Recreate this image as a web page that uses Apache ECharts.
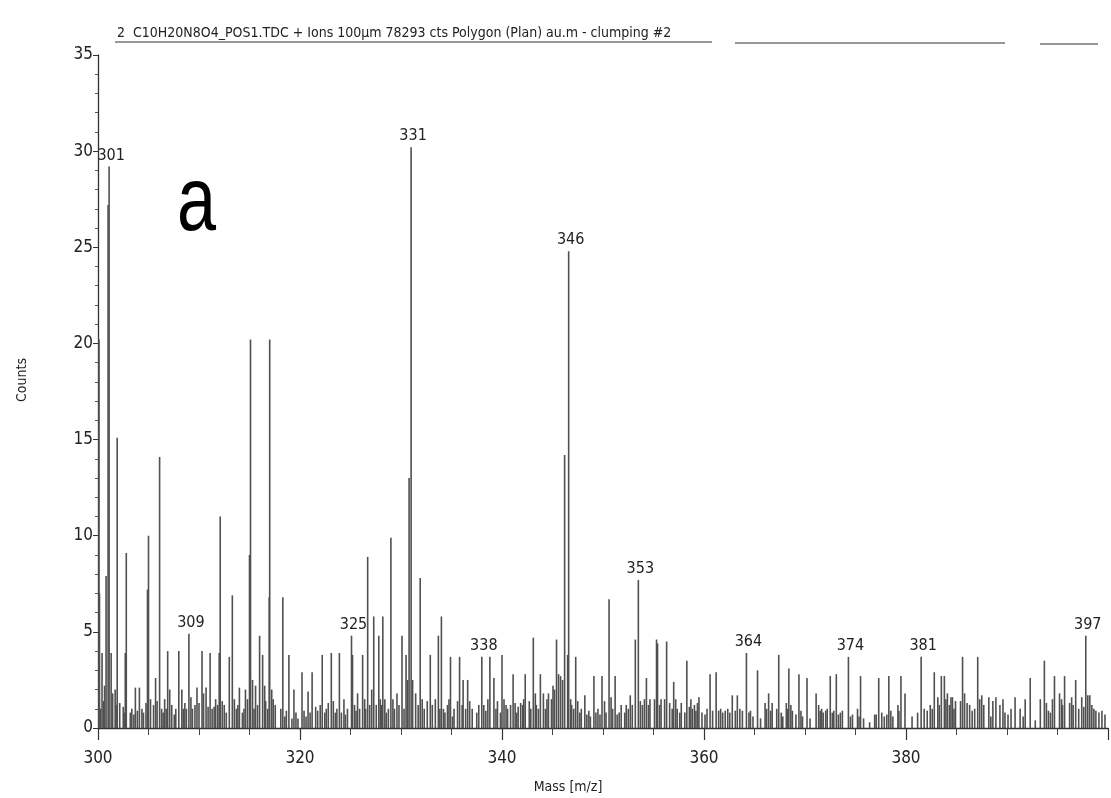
<!DOCTYPE html>
<html><head><meta charset="utf-8">
<script src="https://cdn.jsdelivr.net/npm/echarts@6/dist/echarts.min.js"></script>
<style>html,body{margin:0;padding:0;background:#fff}#c{width:1111px;height:798px}</style>
</head><body><div id="c"></div>
<script>
// Main (taller) mass peaks: [m/z, counts]
const mainPeaks = [
[300.1,20.2],[300.15,7.0],[300.4,3.9],[300.8,7.9],[301.0,27.2],[301.1,29.2],[301.3,3.9],[301.7,2.0],[301.9,15.1],
[302.7,3.9],[302.8,9.1],[303.7,2.1],[304.1,2.1],[304.9,7.2],[305.0,10.0],[305.7,2.6],[306.1,14.1],[306.9,4.0],
[307.1,2.0],[308.0,4.0],[308.3,2.0],[309.0,4.9],[309.8,2.1],[310.3,4.0],[310.7,2.1],[311.1,3.9],[312.0,3.9],
[312.1,11.0],[313.0,3.7],[313.3,6.9],[314.0,2.1],[315.0,9.0],[315.1,20.2],[316.0,4.8],[316.3,3.8],[316.95,6.8],
[317.0,20.2],[318.3,6.8],[318.9,3.8],[319.4,2.0],[320.2,2.9],[320.8,1.9],[321.2,2.9],[322.2,3.8],[323.1,3.9],
[323.9,3.9],[325.1,4.8],[325.2,3.8],[325.7,1.8],[326.2,3.8],[326.7,8.9],[327.3,5.8],[327.8,4.8],[328.2,5.8],
[329.0,9.9],[330.1,4.8],[330.5,3.8],[330.8,13.0],[331.0,30.2],[331.9,7.8],[332.9,3.8],[333.7,4.8],[334.0,5.8],
[334.9,3.7],[335.8,3.7],[336.6,2.5],[338.0,3.7],[338.8,3.7],[339.2,2.6],[340.0,3.8],[341.1,2.8],[342.3,2.8],
[343.1,4.7],[343.8,2.8],[344.1,1.8],[345.4,4.6],[345.8,2.7],[346.2,14.2],[346.5,3.8],[346.6,24.8],[347.3,3.7],
[348.2,1.7],[349.1,2.7],[349.9,2.7],[350.6,6.7],[351.2,2.7],[352.7,1.7],[353.2,4.6],[353.5,7.7],[354.3,2.6],
[355.3,4.6],[355.4,4.4],[356.3,4.5],[357.0,2.4],[358.3,3.5],[359.5,1.6],[360.6,2.8],[361.2,2.9],[362.8,1.7],
[363.3,1.7],[364.2,3.9],[365.3,3.0],[366.4,1.8],[367.4,3.8],[368.4,3.1],[369.4,2.8],[370.2,2.6],[371.1,1.8],
[372.5,2.7],[373.1,2.8],[374.3,3.7],[375.5,2.7],[377.3,2.6],[378.3,2.7],[379.5,2.7],[379.9,1.8],[381.5,3.7],
[382.8,2.9],[383.5,2.7],[383.8,2.7],[384.6,1.6],[385.6,3.7],[387.1,3.7],[387.5,1.7],[388.2,1.6],[388.9,1.6],
[389.6,1.5],[390.8,1.6],[391.8,1.5],[392.3,2.6],[393.7,3.5],[394.3,0.8],[394.7,2.7],[395.4,1.5],[395.7,2.7],
[396.8,2.5],[397.8,4.8],[398.0,1.7]
];
// Low-intensity sticks forming the spectrum floor: [m/z, counts]
const minorSticks = [
[300.25,1.0],[300.55,1.4],[300.65,2.2],[301.45,1.8],[301.8,1.2],[302.15,1.3],[302.5,1.1],[302.6,0.8],
[303.2,0.8],[303.35,1.0],[303.55,0.7],[303.9,0.9],[304.35,1.0],[304.5,0.8],[304.75,1.3],[305.2,1.5],[305.5,1.2],
[305.85,1.4],[306.3,1.0],[306.45,0.8],[306.6,1.5],[306.75,1.0],[307.3,1.2],[307.55,0.7],[307.7,1.0],[308.45,1.0],
[308.6,1.3],[308.75,1.0],[309.2,1.6],[309.35,1.0],[309.6,1.2],[310.0,1.3],[310.45,1.8],[310.9,1.1],[311.3,1.0],
[311.5,1.1],[311.65,1.5],[311.85,1.2],[312.3,1.4],[312.5,1.2],[312.7,0.8],[313.5,1.5],[313.7,1.0],[313.85,1.2],
[314.3,0.8],[314.45,1.0],[314.6,2.0],[314.8,1.5],[315.3,2.5],[315.45,1.0],[315.6,2.2],[315.8,1.2],[316.5,2.2],
[316.6,1.4],[316.8,1.0],[317.2,2.0],[317.35,1.5],[317.55,1.2],[318.1,1.0],[318.5,0.6],[318.65,0.9],[319.2,0.5],
[319.6,0.8],[319.8,0.5],[320.4,0.9],[320.6,0.6],[321.0,0.8],[321.55,1.1],[321.75,0.9],[322.0,1.2],[322.45,0.8],
[322.6,1.0],[322.8,1.3],[323.3,1.4],[323.5,0.8],[323.65,1.0],[324.1,0.8],[324.35,1.5],[324.5,0.7],[324.7,1.0],
[325.4,1.2],[325.55,0.9],[325.9,1.0],[326.4,1.5],[326.5,1.0],[326.9,1.2],[327.1,2.0],[327.55,1.2],[327.95,1.5],
[328.05,1.2],[328.4,1.5],[328.55,0.8],[328.75,1.0],[329.2,1.5],[329.35,1.0],[329.6,1.8],[329.8,1.2],[330.3,1.0],
[330.65,2.5],[331.15,2.5],[331.45,1.8],[331.7,1.2],[332.1,1.5],[332.3,1.0],[332.6,1.4],[333.1,1.2],[333.4,1.5],
[333.85,1.0],[334.2,1.0],[334.35,0.8],[334.6,1.2],[334.75,1.5],[335.1,0.6],[335.25,1.0],[335.6,1.4],[336.05,1.2],
[336.15,2.5],[336.4,1.0],[336.8,1.4],[337.05,1.0],[337.5,0.8],[337.7,1.2],[338.2,1.2],[338.4,0.9],[338.6,1.5],
[339.4,1.0],[339.55,1.4],[339.85,0.8],[340.2,1.5],[340.4,1.2],[340.55,1.0],[340.85,1.2],[341.3,1.3],[341.45,0.8],
[341.6,1.1],[341.85,1.3],[342.05,1.2],[342.15,1.5],[342.7,1.4],[342.85,1.0],[343.3,1.8],[343.4,1.2],[343.6,1.0],
[344.3,1.0],[344.45,1.5],[344.6,1.8],[344.9,1.5],[345.05,2.2],[345.2,2.0],[345.6,2.8],[346.0,2.5],[346.8,1.5],
[346.9,1.2],[347.1,1.0],[347.5,1.4],[347.7,0.8],[347.85,1.0],[348.4,0.7],[348.6,0.9],[348.75,0.6],[349.3,0.8],
[349.5,1.0],[349.7,0.7],[350.15,1.4],[350.3,0.8],[350.8,1.6],[350.95,1.0],[351.4,0.7],[351.6,0.8],[351.8,1.2],
[352.15,0.8],[352.3,1.2],[352.5,1.0],[352.9,1.2],[353.7,1.4],[353.9,1.2],[354.1,1.5],[354.5,1.2],[354.65,1.5],
[355.1,1.5],[355.6,1.2],[355.75,1.5],[356.1,1.5],[356.6,1.3],[356.85,1.0],[357.2,1.5],[357.35,1.0],[357.6,0.8],
[357.75,1.3],[358.1,0.8],[358.55,1.1],[358.7,1.5],[358.85,1.0],[359.05,1.2],[359.2,0.9],[359.35,1.3],[359.8,0.8],
[360.1,0.7],[360.3,1.0],[360.85,0.9],[361.45,0.9],[361.65,1.0],[361.85,0.8],[362.1,0.9],[362.35,1.0],[362.55,0.8],
[363.1,0.9],[363.55,1.0],[363.8,0.9],[364.45,0.8],[364.6,0.9],[364.85,0.6],[365.6,0.5],[366.05,1.3],[366.2,1.0],
[366.6,0.9],[366.75,1.3],[367.2,1.0],[367.65,0.8],[367.8,0.6],[368.15,1.3],[368.3,1.0],[368.6,1.2],[368.75,0.9],
[369.1,0.7],[369.6,0.9],[369.75,0.6],[370.5,0.5],[371.35,1.2],[371.5,0.9],[371.65,1.0],[371.8,0.8],[372.05,0.9],
[372.2,1.0],[372.7,0.8],[372.85,0.9],[373.3,0.7],[373.5,0.8],[373.7,0.9],[374.5,0.6],[374.7,0.7],[375.2,1.0],
[375.35,0.6],[375.8,0.5],[376.4,0.3],[376.9,0.7],[377.05,0.7],[377.6,0.8],[377.85,0.6],[378.1,0.7],[378.5,0.9],
[378.7,0.6],[379.2,1.2],[379.3,0.9],[380.6,0.6],[381.15,0.8],[381.8,1.0],[382.1,0.9],[382.4,1.2],[382.6,1.0],
[383.15,1.6],[383.3,1.2],[383.95,1.5],[384.1,1.8],[384.3,1.2],[384.45,1.6],[384.75,1.0],[384.9,1.4],[385.4,1.4],
[385.8,1.8],[386.05,1.3],[386.3,1.2],[386.55,0.9],[386.8,1.0],[387.3,1.5],[387.7,1.2],[388.4,0.6],[388.6,1.4],
[389.3,1.2],[389.8,0.8],[390.1,0.7],[390.4,1.0],[391.3,1.0],[391.6,0.6],[392.8,0.4],[393.3,1.5],[393.9,1.3],
[394.1,0.9],[394.5,1.5],[395.2,1.8],[395.5,1.2],[396.2,1.3],[396.4,1.6],[396.55,1.2],[397.1,1.0],[397.4,1.6],
[397.6,1.1],[398.2,1.7],[398.4,1.2],[398.6,1.0],[398.8,0.9],[399.1,0.8],[399.4,0.9],[399.7,0.7]
];
// Annotated peaks
const labelTexts  = ['301','309','325','331','338','346','353','364','374','381','397'];
const labelMasses = [301.1, 309.0, 325.1, 331.0, 338.0, 346.6, 353.5, 364.2, 374.3, 381.5, 397.8];
const xTickLabels = [300, 320, 340, 360, 380];
const yTickLabels = [0, 5, 10, 15, 20, 25, 30, 35];
const titleText = '2  C10H20N8O4_POS1.TDC + Ions 100µm 78293 cts Polygon (Plan) au.m - clumping #2';
const panelLetter = 'a';
const xName = 'Mass [m/z]';
const yName = 'Counts';

const NARROW = '"Liberation Sans Narrow","DejaVu Sans Condensed","Liberation Sans",sans-serif';
const sticks = mainPeaks.concat(minorSticks);
const labelData = labelMasses.map(m => {
  const p = mainPeaks.find(q => q[0] === m);
  return [m, p ? p[1] : 0];
});

const chart = echarts.init(document.getElementById('c'));
chart.setOption({
  animation: false,
  backgroundColor: '#ffffff',
  grid: { left: 98, right: 3, top: 55, bottom: 70 },
  xAxis: {
    type: 'value', min: 300, max: 400, interval: 20,
    axisLine: { lineStyle: { color: '#333', width: 1.3 } },
    axisTick: { length: 12, lineStyle: { color: '#333', width: 1.2 } },
    minorTick: { show: true, splitNumber: 4, length: 7, lineStyle: { color: '#444', width: 1 } },
    splitLine: { show: false },
    axisLabel: { margin: 22, color: '#222', fontFamily: NARROW, fontSize: 17,
      formatter: v => xTickLabels.includes(v) ? String(v) : '' }
  },
  yAxis: {
    type: 'value', min: 0, max: 35, interval: 5,
    axisLine: { show: true, lineStyle: { color: '#333', width: 1.3 } },
    axisTick: { show: true, length: 5, lineStyle: { color: '#333' } },
    minorTick: { show: true, splitNumber: 5, length: 3, lineStyle: { color: '#555' } },
    splitLine: { show: false },
    axisLabel: { margin: 5, color: '#222', fontFamily: NARROW, fontSize: 17,
      formatter: v => yTickLabels.includes(v) ? String(v) : '' }
  },
  series: [
    {
      type: 'custom', data: sticks, encode: { x: 0, y: 1 }, clip: true,
      renderItem: (params, api) => {
        const m = api.value(0), c = api.value(1);
        const p0 = api.coord([m, 0]), p1 = api.coord([m, c]);
        return { type: 'line', shape: { x1: p0[0], y1: p0[1], x2: p1[0], y2: p1[1] },
          style: { stroke: '#505050', lineWidth: 1.6 } };
      }
    },
    {
      type: 'custom', data: labelData, encode: { x: 0, y: 1 }, z: 5,
      renderItem: (params, api) => {
        const p = api.coord([api.value(0), api.value(1)]);
        return { type: 'text', x: p[0] + 2, y: p[1] - 3,
          style: { text: labelTexts[params.dataIndex], fill: '#222', font: '16px ' + NARROW,
            align: 'center', verticalAlign: 'bottom' } };
      }
    }
  ],
  graphic: [
    { type: 'text', x: 117, y: 33, style: { text: titleText, fill: '#222', font: '14px ' + NARROW, verticalAlign: 'middle' } },
    { type: 'line', shape: { x1: 115, y1: 42, x2: 712, y2: 42 }, style: { stroke: '#333', lineWidth: 1.2 } },
    { type: 'line', shape: { x1: 735, y1: 43, x2: 1005, y2: 43 }, style: { stroke: '#333', lineWidth: 1.2 } },
    { type: 'line', shape: { x1: 1040, y1: 44, x2: 1098, y2: 44 }, style: { stroke: '#333', lineWidth: 1.2 } },
    { type: 'text', x: 177, y: 205, scaleX: 0.78, style: { text: panelLetter, fill: '#000', font: '90px "Liberation Sans", Arial, sans-serif', verticalAlign: 'middle' } },
    { type: 'text', x: 568, y: 787, style: { text: xName, fill: '#222', font: '14px ' + NARROW, align: 'center', verticalAlign: 'middle' } },
    { type: 'text', x: 22, y: 380, rotation: Math.PI / 2, style: { text: yName, fill: '#222', font: '14px ' + NARROW, align: 'center', verticalAlign: 'middle' } }
  ]
});
</script></body></html>
